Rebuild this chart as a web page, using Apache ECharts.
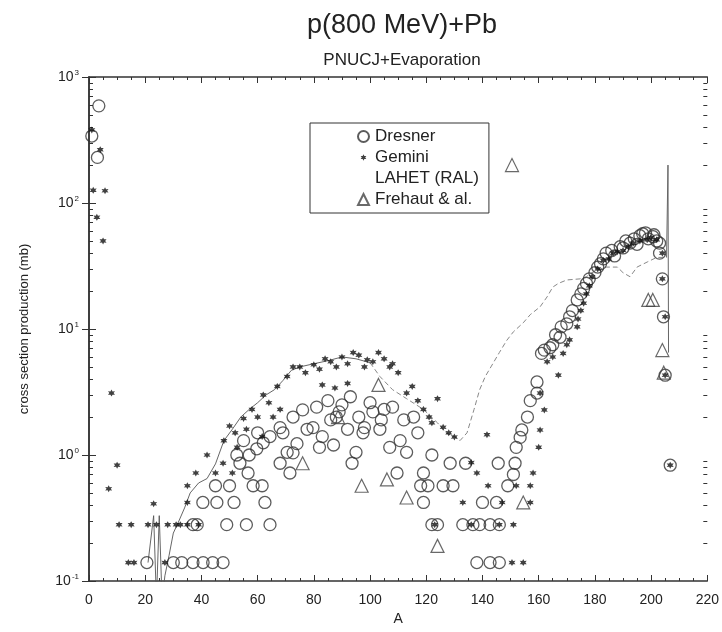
<!DOCTYPE html>
<html>
<head>
<meta charset="utf-8">
<title>p(800 MeV)+Pb</title>
<script src="https://cdn.jsdelivr.net/npm/echarts@6/dist/echarts.min.js"></script>
<style>
  html, body { margin: 0; padding: 0; background: #fff; }
  #main { width: 722px; height: 632px; }
</style>
</head>
<body>
<div id="main"></div>
<script type="text/javascript">
// values: [A, cross section (mb)]
var dresner = [
  [1,340],[3,230],[3.5,590],
  [20.6,0.14],[30,0.14],[33,0.14],[37,0.14],[40.6,0.14],[44,0.14],[47.7,0.14],
  [37,0.28],[38.5,0.28],[49,0.28],[56,0.28],[64.4,0.28],
  [40.5,0.42],[45.5,0.42],[51.6,0.42],[62.6,0.42],
  [45,0.57],[50,0.57],[58.4,0.57],[61.6,0.57],
  [53.7,0.86],[56.6,0.72],[52.6,1.0],[59.7,1.12],[68,0.86],[71.5,0.72],[64.4,1.4],[68,1.65],[72.6,2.0],
  [70.5,1.05],[57,1.0],[55,1.3],[60,1.5],[62,1.25],[69,1.5],
  [76,2.28],[81,2.4],[85,2.7],[89,2.2],[93,2.9],[96,2.0],[101,2.2],[105,2.3],[108,2.4],[112,1.9],
  [115.5,2.0],[117,1.5],[110.7,1.3],[107,1.15],[113,1.05],[122,1.0],[128.5,0.86],[134,0.86],
  [72.6,1.04],[82,1.15],[74,1.23],[77.6,1.6],[79.7,1.65],[83,1.4],[88,2.0],[92,1.6],[97.5,1.5],
  [98,1.65],[103.5,1.6],[95,1.05],[93.6,0.86],[109.6,0.72],[119,0.72],[118,0.57],[120.6,0.57],
  [126,0.57],[129.5,0.57],[119,0.42],
  [122,0.28],[124,0.28],[133,0.28],[136.6,0.28],[139,0.28],[142.7,0.28],[146,0.28],
  [138,0.14],[142.7,0.14],[146,0.14],[140,0.42],[145,0.42],[145.6,0.86],
  [90,2.5],[100,2.6],[86,1.9],[104,1.9],[87,1.2],
  [149,0.57],[151,0.7],[151.6,0.86],[152,1.15],[153.4,1.38],[154,1.58],[156,2.0],[157,2.7],
  [159.4,3.1],[159.4,3.8],[161,6.4],[164,7.1],[167.6,8.6],[168,10.4],[171,12.5],[173.7,17],
  [177,23],[181,31],[184,40],[189,45],[192.5,48],[197,57],[200.7,54],[203,48],[203,40],
  [204,25],[204.4,12.5],[205,4.3],[206.8,0.83],
  [162,6.8],[165,7.5],[166,9],[170,11],[172,14],[175,19],[176,21],[178,25],[180,28],[182,33],
  [183,36],[186,42],[187,38],[190,44],[191,50],[194,52],[195,47],[196,55],[198,58],[199,52],
  [201,56],[202,50]
];

var gemini = [
  [1,380],[4,265],[1.5,126],[5.7,125],[2.8,77],[5,50],[8,3.1],[10,0.83],[7,0.54],
  [10.7,0.28],[15,0.28],[21,0.28],[24,0.28],[28,0.28],[31,0.28],[32.5,0.28],[35,0.28],[39,0.28],
  [14,0.14],[16,0.14],[27,0.14],[23,0.41],
  [35,0.57],[35,0.42],[38,0.72],[42,1.0],[45,0.72],[47.7,0.86],[51,0.72],[52,1.5],[52.7,1.15],
  [55,1.95],[58,2.3],[62,3.0],[67,3.5],[70.5,4.2],[72.6,5.0],[68,2.3],[65.5,2.0],[61.6,1.4],
  [60,2.0],[48,1.3],[50,1.7],[56,1.6],[64,2.6],
  [75,5.0],[80,5.2],[86,5.5],[94,6.5],[99,5.7],[103,6.5],[107,5.0],[110,4.5],[77,4.5],[82,4.8],
  [84,5.8],[88,5.0],[90,6.0],[92,5.3],[96,6.2],[98,5.0],[101,5.5],[105,5.8],[108,5.3],[83,3.6],
  [87.5,3.4],[92,3.7],[113,3.1],[117,2.7],[119,2.3],[122,1.8],[126,1.66],[130,1.39],[124,2.8],
  [115,3.5],[121,2.0],[128,1.5],
  [141.6,1.45],[142,0.57],[133,0.42],[136,0.87],[138,0.72],[123,0.28],[136,0.28],[146,0.28],
  [150.5,0.14],[154.5,0.14],[151,0.28],[152,0.57],[147,0.42],[157,0.42],[157,0.57],[158,0.72],
  [160,1.15],[160.5,1.58],[162,2.28],[160.5,3.1],[167,4.3],
  [163,5.5],[165,6.0],[168.7,6.4],[171,8.2],[173.7,10.4],[175,14],[177,19],[179,26],[183,35],
  [186.5,40],[190,42],[193.6,48],[198.6,51],[202,51],[204,40],[204,25],[205,12.5],[205,4.3],
  [206.8,0.83],[170,7.5],[174,12],[176,16],[178,22],[181,30],[185,36],[188,41],[192,45],
  [196,50],[200,53]
];

var lahet = [
  [21,0.14],[23,0.33],[24,0.07],[25,0.33],[26,0.07],[27,0.11],[28.5,0.16],[30,0.24],[32,0.3],
  [34,0.38],[36,0.5],[39,0.6],[42,0.65],[45,0.85],[48,1.3],[51,1.6],[54,2.0],[57,2.3],[60,2.6],
  [63,3.0],[66,3.3],[69,3.9],[72,4.7],[75,5.0],[80,5.3],[85,5.6],[90,6.0],[95,5.8],[100,5.4],
  [103.5,4.2],[108,3.3],[113,2.8],[119,2.3],[124,1.8],[127,1.5],[130,1.4],[132,1.3],[134.5,1.5],
  [137,2.3],[139,3.3],[141,4.2],[143,5.0],[146,6.5],[148.6,8.1],[151,9.5],[154.5,11.2],[157,13],
  [160.5,15],[163,18],[165,21.5],[167,23],[170,24.5],[174.7,25],[177,26],[179,28],[182,30],
  [184,31],[188,31],[190,28],[192.5,26],[195,31],[198.6,34],[202,37],[204,37],[205.5,37],
  [206,200],[206.2,6.5]
];

var frehaut = [
  [76,0.86],[88.6,2.0],[97,0.57],[103,3.6],[106,0.64],[113,0.46],[124,0.19],[150.5,200],
  [154.5,0.42],[199,17],[200.6,17],[204,6.8],[204.5,4.5]
];

var xTicks = [0, 20, 40, 60, 80, 100, 120, 140, 160, 180, 200, 220];
var yDecades = [0.1, 1, 10, 100, 1000];

// minor log ticks 2..9 of every decade
var yMinor = [];
for (var d = 0; d < yDecades.length - 1; d++) {
  for (var m = 2; m <= 9; m++) yMinor.push(+(yDecades[d] * m).toPrecision(3));
}

// the LAHET curve is printed solid on the left, dashed in the middle, solid in the end spike
var lahetSolid = lahet.filter(function (p) { return p[0] <= 100; });
var lahetDashed = lahet.filter(function (p) { return p[0] >= 100 && p[0] <= 205.5; });
var lahetSpike = lahet.filter(function (p) { return p[0] >= 205.5; });

var FONT = 'Liberation Sans';
var INK = '#333';
var starShape = 'M0,-10 L2.6,-4.5 L8.7,-5 L5.2,0 L8.7,5 L2.6,4.5 L0,10 L-2.6,4.5 L-8.7,5 L-5.2,0 L-8.7,-5 L-2.6,-4.5 Z';
var starPath = 'path://' + starShape;
// same star with an invisible margin so the legend draws it small
var starLegend = 'path://M-17,-17 L-17,-17 M17,17 L17,17 ' + starShape;

var myChart = echarts.init(document.getElementById('main'));

var xBase = {
  type: 'value', min: 0, max: 220, interval: 20,
  axisLine: { lineStyle: { color: INK, width: 1.5 } },
  axisTick: { inside: true, length: 6, lineStyle: { color: INK } },
  minorTick: { show: true, splitNumber: 4, length: 3, lineStyle: { color: INK } },
  splitLine: { show: false }
};

var yBase = {
  type: 'log', logBase: 10, min: 0.1, max: 1000,
  axisLine: { show: true, lineStyle: { color: INK, width: 1.5 } },
  axisTick: { inside: true, length: 7, lineStyle: { color: INK }, customValues: yDecades },
  splitLine: { show: false }
};

var option = {
  backgroundColor: '#fff',
  animation: false,
  title: [
    { text: 'p(800 MeV)+Pb', left: 397, top: 7, textAlign: 'center',
      textStyle: { fontFamily: FONT, fontSize: 27, fontWeight: 'normal', color: '#222' } },
    { text: 'PNUCJ+Evaporation', left: 397, top: 47, textAlign: 'center',
      textStyle: { fontFamily: FONT, fontSize: 17, fontWeight: 'normal', color: '#222' } }
  ],
  legend: {
    orient: 'vertical', left: 310, top: 123,
    padding: [5, 10, 5, 47], itemGap: 4, itemWidth: 11, itemHeight: 11,
    borderColor: INK, borderWidth: 1,
    textStyle: { fontFamily: FONT, fontSize: 17, color: '#222', padding: [0, 0, 0, 1] },
    data: [
      { name: 'Dresner', icon: 'circle' },
      { name: 'Gemini', icon: starLegend },
      { name: 'LAHET (RAL)', icon: 'none' },
      { name: 'Frehaut & al.', icon: 'triangle' }
    ]
  },
  grid: { left: 89, right: 14, top: 77, bottom: 51 },
  xAxis: [
    Object.assign({}, xBase, {
      position: 'bottom', name: 'A', nameLocation: 'middle', nameGap: 27,
      nameTextStyle: { fontFamily: FONT, fontSize: 14, color: '#222' },
      axisLabel: { fontFamily: FONT, fontSize: 14, color: '#222', margin: 12,
        customValues: xTicks }
    }),
    Object.assign({}, xBase, { position: 'top', axisLabel: { show: false } })
  ],
  yAxis: [
    Object.assign({}, yBase, {
      position: 'left', name: 'cross section production (mb)', nameLocation: 'middle', nameGap: 58,
      nameTextStyle: { fontFamily: FONT, fontSize: 13, color: '#222' },
      axisLabel: {
        margin: 10, customValues: yDecades,
        formatter: function (v) {
          return '{b|10}{e|' + Math.round(Math.log10(v)) + '}';
        },
        rich: {
          b: { fontFamily: FONT, fontSize: 14, color: '#222' },
          e: { fontFamily: FONT, fontSize: 8, color: '#222', verticalAlign: 'top', padding: [0, 0, 9, 1] }
        }
      }
    }),
    Object.assign({}, yBase, { position: 'right', axisLabel: { show: false } }),
    Object.assign({}, yBase, { position: 'left', axisLine: { show: false }, axisLabel: { show: false },
      axisTick: { inside: true, length: 4, lineStyle: { color: INK }, customValues: yMinor } }),
    Object.assign({}, yBase, { position: 'right', axisLine: { show: false }, axisLabel: { show: false },
      axisTick: { inside: true, length: 4, lineStyle: { color: INK }, customValues: yMinor } })
  ],
  series: [
    {
      name: 'LAHET (RAL)', type: 'line', symbol: 'none', data: lahetSolid,
      lineStyle: { color: '#555', width: 0.9 }, itemStyle: { color: '#999' }, z: 1
    },
    {
      name: 'LAHET (RAL)', type: 'line', symbol: 'none', data: lahetDashed,
      lineStyle: { color: '#888', width: 1, type: [5, 3] }, itemStyle: { color: '#999' }, z: 1
    },
    {
      name: 'LAHET (RAL)', type: 'line', symbol: 'none', data: lahetSpike,
      lineStyle: { color: '#666', width: 1 }, itemStyle: { color: '#999' }, z: 1
    },
    {
      name: 'Dresner', type: 'scatter', symbol: 'circle', symbolSize: 12, data: dresner,
      itemStyle: { color: 'rgba(255,255,255,0)', borderColor: '#333', borderWidth: 1.3 }, z: 2
    },
    {
      name: 'Gemini', type: 'scatter', symbol: starPath, symbolSize: 7, data: gemini,
      itemStyle: { color: '#111' }, z: 3
    },
    {
      name: 'Frehaut & al.', type: 'scatter', symbol: 'triangle', symbolSize: 13, data: frehaut,
      itemStyle: { color: 'rgba(255,255,255,0)', borderColor: '#444', borderWidth: 1.2 }, z: 2
    }
  ]
};

myChart.setOption(option);
</script>
</body>
</html>
